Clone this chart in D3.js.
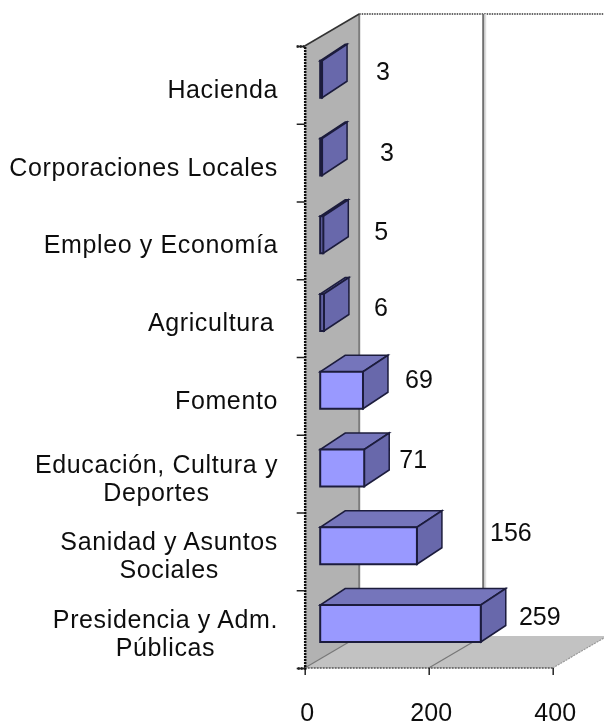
<!DOCTYPE html>
<html lang="en">
<head>
<meta charset="UTF-8">
<title>Chart</title>
<style>
  html, body { margin: 0; background: #fff; }
  svg { display: block; }
  text { font-family: "Liberation Sans", Arial, sans-serif; font-size: 25px; fill: #111; }
  .cat { letter-spacing: 0.62px; }
</style>
</head>
<body>
<svg id="chart" width="604" height="725">
  <defs><filter id="soft" x="-2%" y="-2%" width="104%" height="104%"><feGaussianBlur stdDeviation="0.5"/></filter></defs>
</svg>

<script src="https://d3js.org/d3.v7.min.js"></script>
<script>

// top to bottom, as drawn
var categories = [
  ["Hacienda"],
  ["Corporaciones Locales"],
  ["Empleo y Economía"],
  ["Agricultura "],
  ["Fomento"],
  ["Educación, Cultura y", "Deportes"],
  ["Sanidad y Asuntos", "Sociales"],
  ["Presidencia y Adm.", "Públicas"]
];
var values = [3, 3, 5, 6, 69, 71, 156, 259];
var xTicks = [0, 200, 400];

// the data labels sit by hand in the original, so each has its own offset from the bar end
var labelDx = [61, 65, 58, 57, 56, 49, 94, 59];
var labelDy = [-24.5, -21, -19.5, -21.5, -27.5, -25, -30, -23.5];

var svg = d3.select("#chart").append("g").attr("filter", "url(#soft)");

var x = d3.scaleLinear().domain([0, 400]).range([304.7, 552.7]),
  yPos = d3.scaleLinear().domain([0, categories.length]).range([46, 668]),
  depthX = 54.5,
  depthY = -32,
  barX = 15.5,     // front of the bar sits this far in from the axis
  barBottom = 26,  // and this far up from the bottom of its band
  barH = 37,
  barDx = 25,
  barDy = -16.5;

var floorY = yPos(categories.length), topY = yPos(0);

function poly(pts) {
  return "M" + pts.map(function (p) { return p.join(","); }).join("L") + "Z";
}

// white backing so the blur has something to sit on
svg.append("rect").attr("width", 604).attr("height", 725).attr("fill", "#fff");

// side wall
svg.append("path")
  .attr("d", poly([[x(0), topY], [x(0) + depthX, topY + depthY], [x(0) + depthX, floorY + depthY], [x(0), floorY]]))
  .attr("fill", "#b2b2b2");

// floor
svg.append("path")
  .attr("d", poly([[x(0), floorY], [x(400), floorY], [x(400) + depthX, floorY + depthY], [x(0) + depthX, floorY + depthY]]))
  .attr("fill", "#c2c2c2");

// back wall edges
svg.append("line")
  .attr("x1", x(0) + depthX).attr("x2", x(0) + depthX)
  .attr("y1", topY + depthY).attr("y2", floorY + depthY)
  .attr("stroke", "#7c7c7c").attr("stroke-width", 2);
svg.append("line")
  .attr("x1", x(0) + depthX).attr("x2", x(400) + depthX)
  .attr("y1", topY + depthY).attr("y2", topY + depthY)
  .attr("stroke", "#666").attr("stroke-width", 2).attr("stroke-dasharray", "1.5 1");

// gridline on back wall, with its pale shadow
svg.append("line")
  .attr("x1", x(200) + depthX + 2).attr("x2", x(200) + depthX + 2)
  .attr("y1", topY + depthY).attr("y2", floorY + depthY)
  .attr("stroke", "#ddd").attr("stroke-width", 2);
svg.append("line")
  .attr("x1", x(200) + depthX).attr("x2", x(200) + depthX)
  .attr("y1", topY + depthY).attr("y2", floorY + depthY)
  .attr("stroke", "#707070").attr("stroke-width", 2);

// floor lines
svg.selectAll(".floorline").data(xTicks).enter().append("line")
  .attr("class", "floorline")
  .attr("x1", function (d) { return x(d); })
  .attr("y1", floorY)
  .attr("x2", function (d) { return x(d) + depthX; })
  .attr("y2", floorY + depthY)
  .attr("stroke", function (d) { return d == 400 ? "#999" : "#777"; })
  .attr("stroke-width", 1.2)
  .attr("stroke-dasharray", function (d) { return d == 400 ? "2 1" : null; });

// wall/floor outer edges
svg.append("line")
  .attr("x1", x(0)).attr("x2", x(0) + depthX)
  .attr("y1", topY).attr("y2", topY + depthY)
  .attr("stroke", "#333").attr("stroke-width", 1.5);
svg.append("line")
  .attr("x1", x(0)).attr("x2", x(400))
  .attr("y1", floorY).attr("y2", floorY)
  .attr("stroke", "#555").attr("stroke-width", 1.5).attr("stroke-dasharray", "2 1");

// axes
var xAxis = svg.append("g")
  .attr("transform", "translate(0," + floorY + ")")
  .call(d3.axisBottom(x).tickValues(xTicks).tickSize(7).tickPadding(28).tickFormat(d3.format("d")));
xAxis.select(".domain").remove();
xAxis.selectAll("line").attr("stroke", "#222").attr("stroke-width", 1.5);
xAxis.selectAll("text").attr("fill", null).attr("dx", 2);
xAxis.attr("font-size", null).attr("font-family", null);

var yAxis = svg.append("g")
  .attr("transform", "translate(" + x(0) + ",0)")
  .call(d3.axisLeft(yPos).tickValues(d3.range(categories.length + 1)).tickSize(8).tickFormat(""));
yAxis.select(".domain").attr("stroke", "#111").attr("stroke-width", 2.5).attr("stroke-dasharray", "2 1");
yAxis.selectAll("line").attr("stroke", "#222").attr("stroke-width", 1.5);

// bars
var bars = svg.selectAll(".bar").data(values).enter().append("g").attr("class", "bar");

function bx0() { return x(0) + barX; }
function bx1(d) { return bx0() + x(d) - x(0); }
function by1(i) { return yPos(i + 1) - barBottom; }

bars.append("path") // top
  .attr("d", function (d, i) {
    var t = by1(i) - barH;
    return poly([[bx0(), t], [bx1(d), t], [bx1(d) + barDx, t + barDy], [bx0() + barDx, t + barDy]]);
  })
  .attr("fill", "#7474bb").attr("stroke", "#1c1c3c").attr("stroke-width", 1.5);

bars.append("path") // side
  .attr("d", function (d, i) {
    var b = by1(i), t = b - barH;
    return poly([[bx1(d), t], [bx1(d) + barDx, t + barDy], [bx1(d) + barDx, b + barDy], [bx1(d), b]]);
  })
  .attr("fill", "#6767ab").attr("stroke", "#1c1c3c").attr("stroke-width", 1.5);

bars.append("rect") // front, too thin to read as light on the tiny bars
  .attr("x", bx0())
  .attr("y", function (d, i) { return by1(i) - barH; })
  .attr("width", function (d) { return x(d) - x(0); })
  .attr("height", barH)
  .attr("fill", function (d) { return x(d) - x(0) < 6 ? "#6767ab" : "#9999ff"; })
  .attr("stroke", "#1c1c3c").attr("stroke-width", 2);

// data labels
svg.selectAll(".val").data(values).enter().append("text")
  .attr("class", "val")
  .attr("text-anchor", "middle")
  .attr("dominant-baseline", "middle")
  .attr("x", function (d, i) { return bx1(d) + labelDx[i]; })
  .attr("y", function (d, i) { return by1(i) + labelDy[i]; })
  .text(function (d) { return d; });

// category labels: block is right aligned, lines are centred inside it
var catLabels = svg.selectAll(".cat").data(categories).enter().append("text")
  .attr("class", "cat")
  .attr("text-anchor", "middle");

catLabels.each(function (lines, i) {
  var el = d3.select(this), right = 278, lineH = 28;
  var widest = 0;
  lines.forEach(function (s) {
    var t = el.append("tspan").attr("xml:space", "preserve").text(s);
    widest = Math.max(widest, t.node().getComputedTextLength());
    t.remove();
  });
  var mid = (yPos(i) + yPos(i + 1)) / 2 + 13;
  lines.forEach(function (s, j) {
    el.append("tspan")
      .attr("x", right - widest / 2)
      .attr("y", mid + (j - (lines.length - 1) / 2) * lineH)
      .text(s);
  });
});

</script>
</body>
</html>
